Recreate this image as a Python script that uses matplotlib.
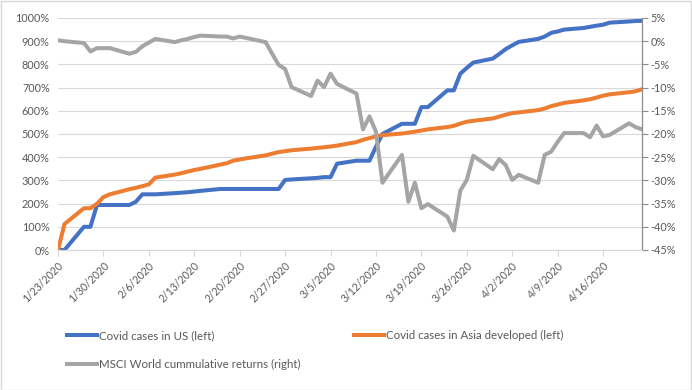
import matplotlib

matplotlib.use("Agg")
import matplotlib.pyplot as plt
import matplotlib.dates as mdates
from matplotlib.lines import Line2D
from matplotlib.patches import Rectangle
import pandas as pd

# trading days shown on the chart
dates = pd.bdate_range("2020-01-23", "2020-04-22")

# cumulative growth of covid cases, % (left axis)
us_cases = [
    0, 0, 100, 100, 194, 194, 194,
    194, 208, 240, 240, 240, 245, 247, 249, 252, 255,
    263, 263, 263, 263, 263, 263, 263, 263, 302, 304,
    309, 311, 314, 314, 372, 385, 385, 385, 445, 500,
    544, 544, 544, 616, 616, 688, 688, 760, 785, 808, 825, 845,
    866, 882, 897, 910, 920, 936, 942, 950,
    957, 962, 967, 971, 980, 985, 987, 988,
]
asia_cases = [
    0, 112, 180, 180, 199, 228, 240,
    262, 268, 275, 283, 312, 325, 331, 338, 345, 350,
    368, 374, 385, 390, 395, 408, 415, 422, 426, 430,
    437, 440, 443, 446, 450, 465, 475, 482, 490, 495,
    502, 506, 510, 515, 520, 530, 535, 545, 553, 557, 567, 575,
    583, 590, 593, 603, 610, 620, 627, 634,
    645, 650, 657, 665, 671, 680, 684, 693,
]
# MSCI World cumulative return, % (right axis)
msci = [
    0.2, 0.0, -0.4, -2.2, -1.5, -1.5, -1.5,
    -2.7, -2.3, -1.1, -0.3, 0.5, -0.2, 0.2, 0.5, 0.9, 1.2,
    1.0, 1.0, 0.6, 1.0, 0.7, -0.2, -2.7, -5.1, -6.0, -9.9,
    -11.8, -8.5, -9.9, -7.0, -9.2, -11.3, -19.0, -16.2, -19.5, -30.5,
    -24.5, -34.6, -30.5, -36.0, -35.1, -37.8, -40.8, -32.2, -29.9, -24.7,
    -27.6, -25.4,
    -26.7, -29.9, -28.8, -30.5, -24.5, -23.8, -21.7, -19.8,
    -19.8, -20.7, -18.2, -20.5, -20.2, -17.7, -18.5, -19.0,
]
labels = [
    "Covid cases in US (left)",
    "Covid cases in Asia developed (left)",
    "MSCI World cummulative returns (right)",
]
colors = ["#4472C4", "#ED7D31", "#A5A5A5"]

tick_dates = pd.date_range("2020-01-23", "2020-04-16", freq="7D")
tick_labels = [f"{d.month}/{d.day}/{d.year}" for d in tick_dates]

plt.rcParams["font.family"] = ["Lato", "DejaVu Sans"]
TXT = "#595959"
GRID = "#D9D9D9"

W, H = 692, 390
fig = plt.figure(figsize=(W / 100, H / 100), dpi=100)
ax = fig.add_axes([58 / W, 1 - 250 / H, (642 - 58) / W, (250 - 18) / H])
ax2 = ax.twinx()

lw = 2.9
ax.plot(dates, us_cases, color=colors[0], lw=lw, solid_joinstyle="round")
ax.plot(dates, asia_cases, color=colors[1], lw=lw, solid_joinstyle="round")
ax2.plot(dates, msci, color=colors[2], lw=lw, solid_joinstyle="round")

ax.set_xlim(dates[0], dates[-1])
ax.set_ylim(0, 1000)
ax.set_yticks(range(0, 1001, 100), [f"{v}%" for v in range(0, 1001, 100)])
ax.grid(axis="y", color=GRID, lw=0.8)
ax.set_axisbelow(True)
ax.tick_params(axis="y", length=0, pad=6, labelsize=7.8, labelcolor=TXT)

ax2.set_ylim(-45, 5)
ax2.set_yticks(range(-45, 6, 5), [f"{v}%" for v in range(-45, 6, 5)])
ax2.tick_params(axis="y", length=4, width=0.8, color="#8C8C8C", pad=2,
                labelsize=7.8, labelcolor=TXT)

ax.set_xticks(tick_dates, tick_labels, rotation=45, ha="right",
              rotation_mode="anchor")
ax.tick_params(axis="x", length=4, width=0.8, color=GRID, pad=3,
               labelsize=7.6, labelcolor=TXT)

for a in (ax, ax2):
    a.spines["top"].set_visible(False)
    a.spines["left"].set_visible(False)
    a.spines["bottom"].set_color(GRID)
    a.spines["right"].set_visible(False)
ax2.spines["right"].set_visible(True)
ax2.spines["right"].set_color("#8C8C8C")
ax2.spines["right"].set_linewidth(0.9)

handles = [Line2D([], [], color=c, lw=lw) for c in colors]
order = [0, 2, 1]
fig.legend([handles[i] for i in order], [labels[i] for i in order],
           ncol=2, loc="upper left", bbox_to_anchor=(67 / W, 1 - 330 / H),
           frameon=False, fontsize=8.3, labelcolor=TXT, borderpad=0,
           borderaxespad=0, handlelength=2.6, handletextpad=0.2,
           columnspacing=4.6, labelspacing=1.55)

fig.patches.append(Rectangle((0.5 / W, 0.5 / H), 1 - 1.5 / W, 1 - 1.5 / H,
                             transform=fig.transFigure, fill=False,
                             edgecolor=GRID, lw=1))

fig.savefig("out.png", dpi=100)
